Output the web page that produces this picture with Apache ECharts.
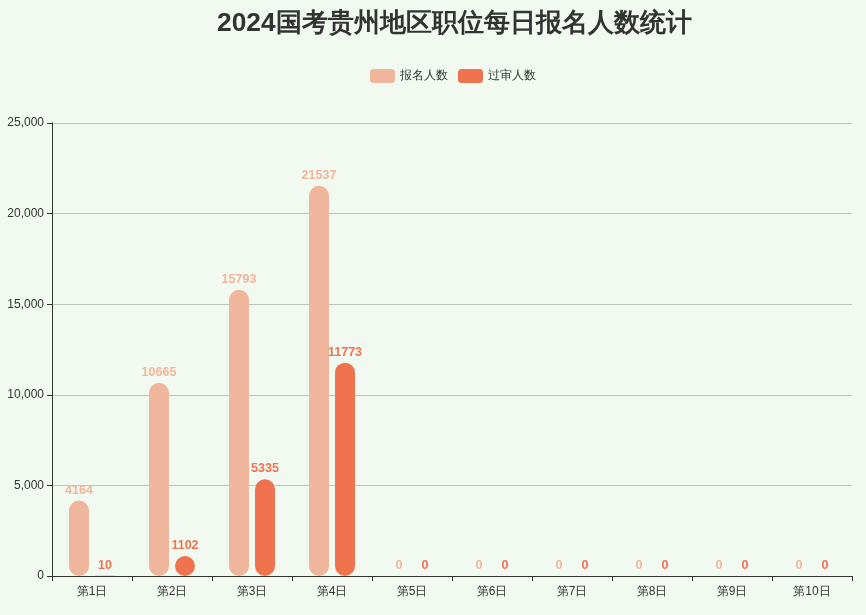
<!DOCTYPE html>
<html>
<head>
<meta charset="utf-8">
<script src="https://cdn.jsdelivr.net/npm/echarts@6/dist/echarts.min.js"></script>
<style>
  html, body { margin: 0; padding: 0; background: #f1f9f1; }
  #chart { width: 866px; height: 615px; }
</style>
</head>
<body>
<div id="chart"></div>
<script>
const days = ['第1日', '第2日', '第3日', '第4日', '第5日', '第6日', '第7日', '第8日', '第9日', '第10日'];
const applied = [4164, 10665, 15793, 21537, 0, 0, 0, 0, 0, 0];
const approved = [10, 1102, 5335, 11773, 0, 0, 0, 0, 0, 0];

const lightColor = '#f0b69b';
const darkColor = '#f07350';

const chart = echarts.init(document.getElementById('chart'));

function barSeries(name, data, color) {
  return {
    name: name,
    type: 'bar',
    data: data,
    barWidth: 20,
    barGap: '30%',
    itemStyle: { color: color, borderRadius: 12 },
    label: {
      show: true,
      position: 'top',
      distance: 4,
      color: color,
      fontWeight: 'bold',
      fontSize: 12.5
    }
  };
}

chart.setOption({
  backgroundColor: '#f1f9f1',
  title: {
    text: '2024国考贵州地区职位每日报名人数统计',
    left: 212,
    top: 6,
    textStyle: { fontSize: 26.3, fontWeight: 'bold', color: '#333333' }
  },
  legend: {
    top: 64,
    left: 365,
    itemWidth: 25,
    itemHeight: 14,
    itemGap: 10,
    textStyle: { fontSize: 12, color: '#333' },
    data: ['报名人数', '过审人数']
  },
  grid: { left: 52, right: 14, top: 123, bottom: 39 },
  xAxis: {
    type: 'category',
    data: days,
    axisLine: { lineStyle: { color: '#333' } },
    axisTick: { show: true, lineStyle: { color: '#333' } },
    axisLabel: { color: '#333', fontSize: 12, margin: 10 }
  },
  yAxis: {
    type: 'value',
    min: 0,
    max: 25000,
    interval: 5000,
    axisLine: { show: true, lineStyle: { color: '#333' } },
    axisTick: { show: true, lineStyle: { color: '#333' } },
    axisLabel: { color: '#333', fontSize: 12 },
    splitLine: { lineStyle: { color: '#bcc7bc' } }
  },
  series: [
    barSeries('报名人数', applied, lightColor),
    barSeries('过审人数', approved, darkColor)
  ]
});
</script>
</body>
</html>
